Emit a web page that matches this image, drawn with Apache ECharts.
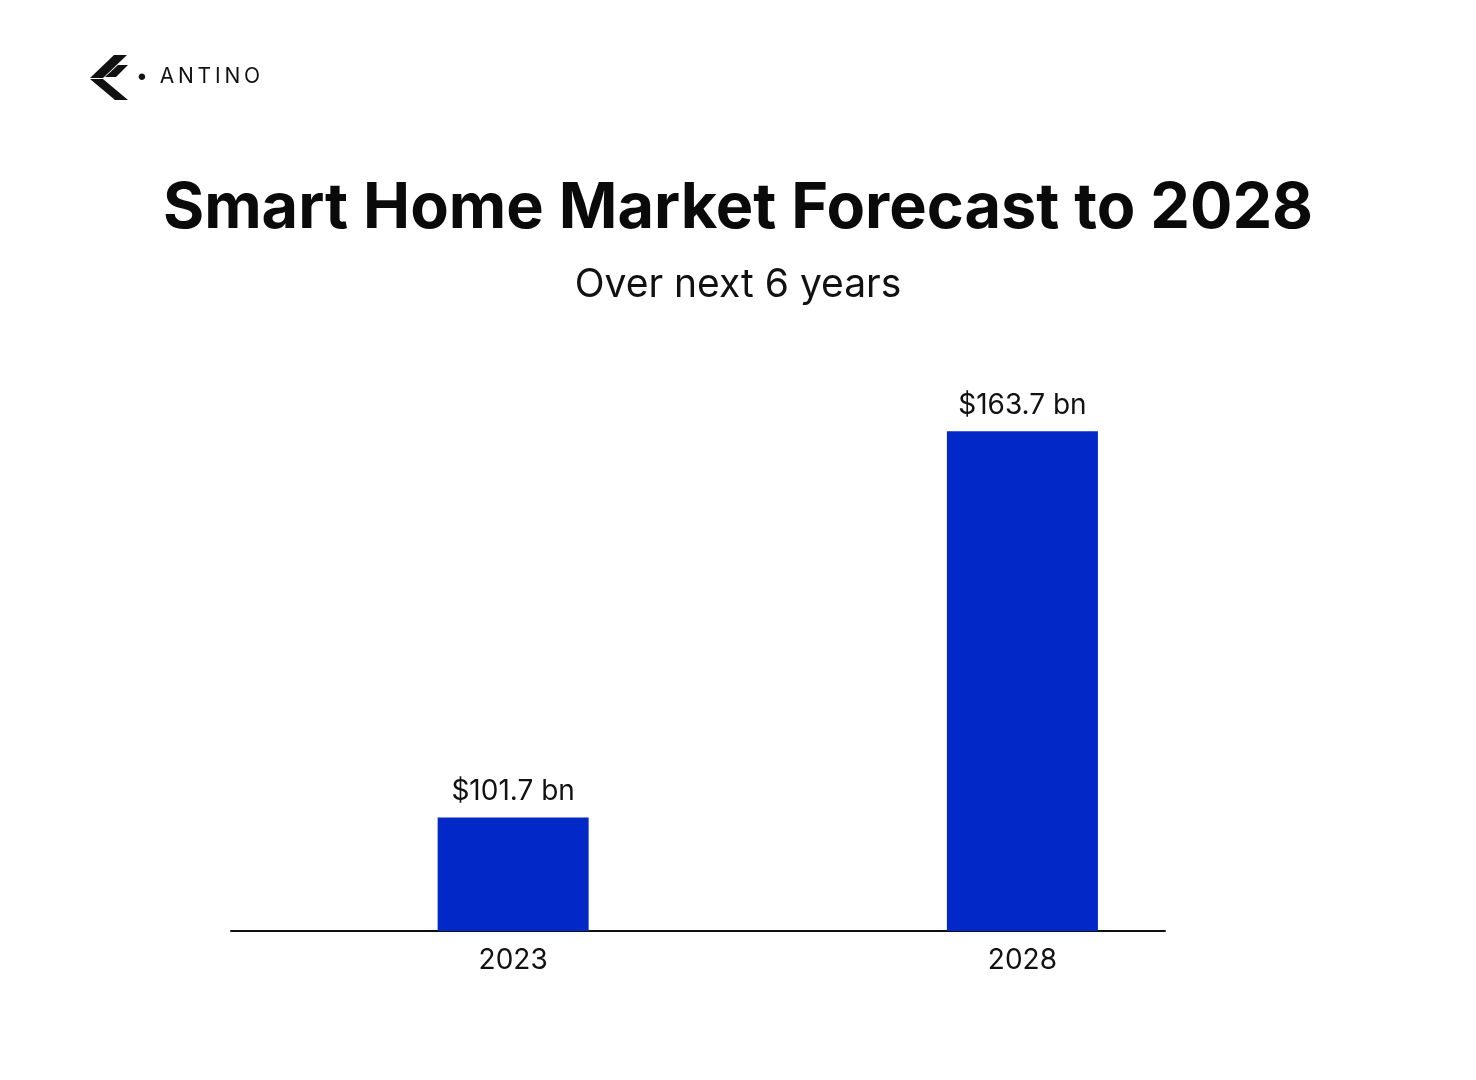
<!DOCTYPE html>
<html>
<head>
<meta charset="utf-8">
<script src="https://cdn.jsdelivr.net/npm/echarts@6.0.0/dist/echarts.min.js"></script>
<style>
  html, body { margin: 0; padding: 0; background: #fff; }
  #chart { width: 1476px; height: 1080px; }
</style>
</head>
<body>
<div id="chart"></div>
<script>
// chart data
const years = [2023, 2028];
const marketSize = [101.7, 163.7]; // USD bn
const titleText = 'Smart Home Market Forecast to 2028';
const subtitleText = 'Over next 6 years';
const brandName = 'ANTINO';

const FONT = 'Inter, "DejaVu Sans", sans-serif';
const BLUE = '#0228C8';

const chart = echarts.init(document.getElementById('chart'));

const seriesData = years.map((y, i) => [y, marketSize[i]]);

// spread the brand letters a little (thin spaces)
const brandSpaced = brandName.split('').join('\u2009');

const option = {
  backgroundColor: '#ffffff',
  animation: false,
  title: [
    {
      text: titleText,
      left: 'center',
      top: 173,
      textStyle: { fontFamily: FONT, fontSize: 63, fontWeight: 700, color: '#0a0a0a' }
    },
    {
      text: subtitleText,
      left: 'center',
      top: 261,
      textStyle: { fontFamily: FONT, fontSize: 39, fontWeight: 400, color: '#111' }
    }
  ],
  graphic: [
    // brand mark (logo)
    {
      type: 'group', left: 90, top: 55,
      children: [
        { type: 'polygon', shape: { points: [[0, 23], [24, 0], [37, 0], [13, 23]] }, style: { fill: '#111' } },
        { type: 'polygon', shape: { points: [[0, 24], [13, 24], [38, 45], [25, 45]] }, style: { fill: '#111' } },
        { type: 'polygon', shape: { points: [[15, 22], [28, 10], [38, 10], [26, 22]] }, style: { fill: '#111' } }
      ]
    },
    {
      type: 'text', left: 136, top: 66,
      style: { text: '•  ' + brandSpaced, fontFamily: FONT, fontSize: 21, fontWeight: 400, fill: '#111' }
    }
  ],
  grid: { left: 231, right: 311, top: 392, bottom: 149 },
  xAxis: {
    type: 'value',
    min: 2020.23,
    max: 2029.4,
    splitLine: { show: false },
    axisTick: { show: false },
    axisLine: { show: true, onZero: false, lineStyle: { color: '#111', width: 2 } },
    axisLabel: {
      customValues: years,
      formatter: v => String(v),
      margin: 16,
      fontFamily: FONT,
      fontSize: 28,
      color: '#111'
    }
  },
  yAxis: {
    type: 'value',
    min: 83.5,
    max: 170,
    show: false,
    splitLine: { show: false }
  },
  series: [
    {
      type: 'bar',
      data: seriesData,
      barWidth: 151,
      itemStyle: { color: BLUE },
      label: {
        show: true,
        position: 'top',
        distance: 12,
        formatter: p => '$' + p.value[1] + ' bn',
        fontFamily: FONT,
        fontSize: 28,
        color: '#111'
      }
    }
  ]
};

chart.setOption(option);
</script>
</body>
</html>
